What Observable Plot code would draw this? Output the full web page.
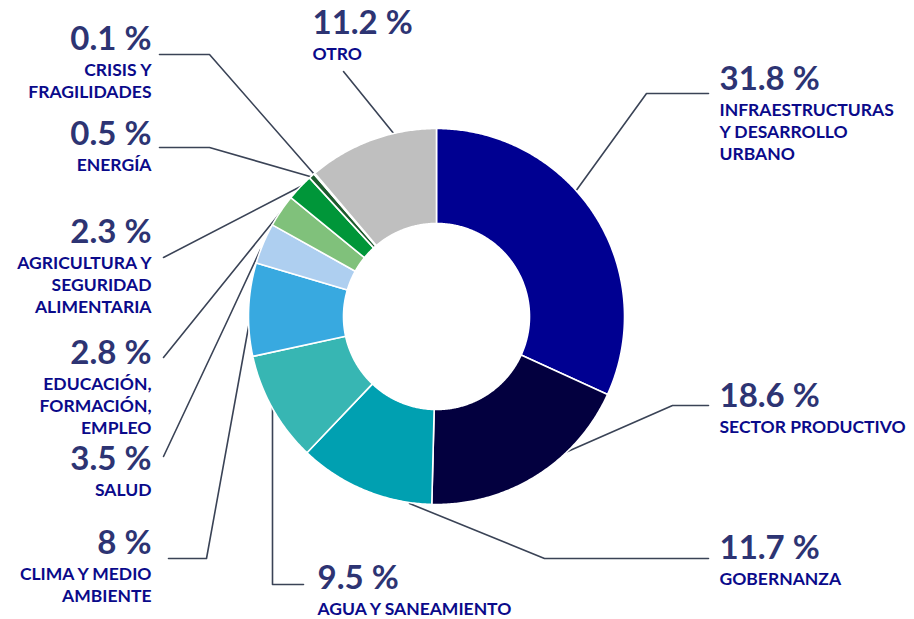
<!DOCTYPE html>
<html>
<head>
<meta charset="utf-8">
<script src="https://cdn.jsdelivr.net/npm/d3@7"></script>
<script src="https://cdn.jsdelivr.net/npm/@observablehq/plot@0.6"></script>
<style>
  html, body { margin: 0; padding: 0; background: #fff; }
  #chart svg { display: block; }
</style>
</head>
<body>
<div id="chart"></div>
<script>
// ---- Data (clockwise from 12 o'clock) ----
const categories = [
  "INFRAESTRUCTURAS\nY DESARROLLO\nURBANO",
  "SECTOR PRODUCTIVO",
  "GOBERNANZA",
  "AGUA Y SANEAMIENTO",
  "CLIMA Y MEDIO\nAMBIENTE",
  "SALUD",
  "EDUCACIÓN,\nFORMACIÓN,\nEMPLEO",
  "AGRICULTURA Y\nSEGURIDAD\nALIMENTARIA",
  "ENERGÍA",
  "CRISIS Y\nFRAGILIDADES",
  "OTRO"
];
const values = [31.8, 18.6, 11.7, 9.5, 8, 3.5, 2.8, 2.3, 0.5, 0.1, 11.2];
const percentLabels = ["31.8 %", "18.6 %", "11.7 %", "9.5 %", "8 %", "3.5 %", "2.8 %", "2.3 %", "0.5 %", "0.1 %", "11.2 %"];

// ---- Styles ----
const colors = ["#000091", "#03003f", "#00a0b1", "#37b6b3", "#38a9e0", "#aecff0", "#80c17b", "#009639", "#1e5b2e", "#1e5b2e", "#bfbfbf"];

// ---- Layout (pixel space) ----
const W = 914, H = 619;
const cx = 436, cy = 316, rOuter = 188, rInner = 93;
// label anchor: x, baseline of percent, text-anchor
const labelLayout = [
  {x: 719, y: 89,  anchor: "start"},
  {x: 719, y: 406, anchor: "start"},
  {x: 719, y: 558, anchor: "start"},
  {x: 317, y: 588, anchor: "start"},
  {x: 151, y: 553, anchor: "end"},
  {x: 151, y: 469, anchor: "end"},
  {x: 151, y: 363, anchor: "end"},
  {x: 151, y: 242, anchor: "end"},
  {x: 151, y: 144, anchor: "end"},
  {x: 151, y: 49,  anchor: "end"},
  {x: 312, y: 33,  anchor: "start"}
];
// leader line paths (pixel space)
const leaders = [
  [[575, 191], [646, 93], [708, 93]],
  [[558, 455], [672, 405], [708, 405]],
  [[409, 503], [544, 558], [708, 558]],
  [[272, 406], [272, 584], [303, 584]],
  [[249, 321], [206, 558], [168, 558]],
  [[260, 249], [227, 320], [163, 456]],
  [[280, 212], [163, 357]],
  [[304, 184], [163, 257]],
  [[313, 177], [209, 147], [159, 147]],
  [[314, 174], [209, 54], [159, 54]],
  [[394, 134], [343, 71]]
];

// ---- Build slice polygons from values ----
const total = d3.sum(values);
const slices = [];
let acc = 0;
values.forEach((v, i) => {
  const a0 = acc / total * 2 * Math.PI;
  acc += v;
  const a1 = acc / total * 2 * Math.PI;
  const n = Math.max(2, Math.ceil((a1 - a0) / (Math.PI / 360)));
  const pts = [];
  for (let k = 0; k <= n; k++) {
    const a = a0 + (a1 - a0) * k / n;
    pts.push({x: cx + rOuter * Math.sin(a), y: cy - rOuter * Math.cos(a)});
  }
  for (let k = n; k >= 0; k--) {
    const a = a0 + (a1 - a0) * k / n;
    pts.push({x: cx + rInner * Math.sin(a), y: cy - rInner * Math.cos(a)});
  }
  pts.forEach(p => slices.push({...p, cat: categories[i]}));
});

const leaderData = [];
leaders.forEach((pts, i) => pts.forEach(([x, y]) => leaderData.push({x, y, id: i})));

const pctFont = 33, labFont = 17.5;
const pctData = categories.map((c, i) => ({...labelLayout[i], text: percentLabels[i]}));
const labData = categories.map((c, i) => ({...labelLayout[i], y: labelLayout[i].y + 23, text: c}));

const fontFamily = "Lato, 'Open Sans', sans-serif";

const plot = Plot.plot({
  width: W, height: H,
  margin: 0,
  x: {domain: [0, W], range: [0, W], axis: null},
  y: {domain: [0, H], range: [0, H], axis: null},
  color: {domain: categories, range: colors},
  style: {fontFamily, background: "#fff"},
  marks: [
    Plot.line(leaderData, {x: "x", y: "y", z: "id", stroke: "#3a4356", strokeWidth: 1.6, curve: "linear"}),
    Plot.line(slices, {x: "x", y: "y", z: "cat", fill: "cat", stroke: "#fff", strokeWidth: 1.6, curve: "linear-closed"}),
    Plot.text(pctData.filter(d => d.anchor === "start"), {x: "x", y: "y", text: "text", textAnchor: "start", lineAnchor: "bottom", fontSize: pctFont, fontWeight: 700, fill: "#2d3473"}),
    Plot.text(pctData.filter(d => d.anchor === "end"), {x: "x", y: "y", text: "text", textAnchor: "end", lineAnchor: "bottom", fontSize: pctFont, fontWeight: 700, fill: "#2d3473"}),
    Plot.text(labData.filter(d => d.anchor === "start"), {x: "x", y: "y", text: "text", textAnchor: "start", lineAnchor: "top", dy: -0.71 * labFont, lineHeight: 1.27, fontSize: labFont, fontWeight: 700, fill: "#0a0a8a"}),
    Plot.text(labData.filter(d => d.anchor === "end"), {x: "x", y: "y", text: "text", textAnchor: "end", lineAnchor: "top", dy: -0.71 * labFont, lineHeight: 1.27, fontSize: labFont, fontWeight: 700, fill: "#0a0a8a"})
  ]
});
document.getElementById("chart").appendChild(plot);
</script>
</body>
</html>
